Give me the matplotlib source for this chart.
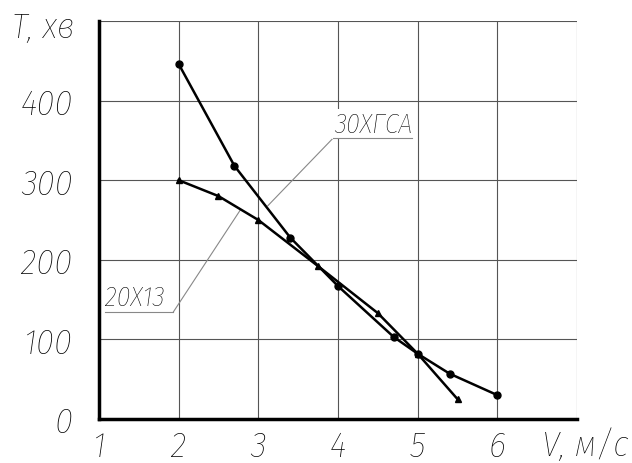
import matplotlib
matplotlib.use('Agg')
import matplotlib.pyplot as plt

# 30ХГСА (circles)
v_30 = [2.0, 2.7, 3.4, 4.0, 4.7, 5.0, 5.4, 6.0]
t_30 = [446, 318, 228, 167, 103, 82, 57, 30]

# 20Х13 (triangles)
v_20 = [2.0, 2.5, 3.0, 3.75, 4.5, 5.0, 5.5]
t_20 = [300, 280, 250, 192, 133, 82, 25]

x_ticks = [1, 2, 3, 4, 5, 6]
y_ticks = [0, 100, 200, 300, 400]

# label: text, text x/y, underline x-range and y, leader start x, leader end x/y
lbl_20 = ('20Х13', 1.08, 143, (1.07, 1.93), 134, 1.93, 2.77, 262)
lbl_30 = ('30ХГСА', 3.95, 361, (3.94, 4.93), 353, 3.94, 3.12, 268)

FONT = dict(family=['Fira Sans Condensed', 'Roboto Condensed', 'DejaVu Sans'],
            style='italic', weight='light')

fig = plt.figure(figsize=(6.32, 4.64), dpi=100)
ax = fig.add_axes([99 / 632, 44 / 464, 478 / 632, 398 / 464])
ax.set_xlim(1, 7)
ax.set_ylim(0, 500)

# grid
for xv in range(1, 8):
    ax.axvline(xv, color='#555555', lw=0.8, zorder=1)
for yv in range(0, 501, 100):
    ax.axhline(yv, color='#555555', lw=0.8, zorder=1)

for s in ['top', 'right']:
    ax.spines[s].set_visible(False)
for s in ['left', 'bottom']:
    ax.spines[s].set_linewidth(2.5)
    ax.spines[s].set_color('black')
    ax.spines[s].set_zorder(4)

ax.plot(v_30, t_30, color='black', lw=1.8, marker='o', ms=5, zorder=3)
ax.plot(v_20, t_20, color='black', lw=1.8, marker='^', ms=5, zorder=3)

ax.set_xticks(x_ticks)
ax.set_yticks(y_ticks)
ax.tick_params(length=0, pad=7)
ax.tick_params(axis='y', pad=19)
for lab in ax.get_xticklabels() + ax.get_yticklabels():
    lab.set_fontfamily(FONT['family'])
    lab.set_fontstyle('italic')
    lab.set_fontweight('light')
    lab.set_fontsize(26)

# labels with leader lines
for name, tx, ty, (u0, u1), uy, sx, lx, ly in [lbl_20, lbl_30]:
    ax.text(tx, ty, name, fontsize=20, ha='left', va='baseline', zorder=5,
            bbox=dict(facecolor='white', edgecolor='none', pad=1.5), **FONT)
    ax.plot([u0, u1], [uy, uy], color='#888888', lw=0.8, zorder=5)
    ax.plot([sx, lx], [uy, ly], color='#888888', lw=0.8, zorder=2)

fig.text(12 / 632, 1 - 38 / 464, 'T, хв', fontsize=26, ha='left', va='baseline', **FONT)
fig.text(542 / 632, 1 - 456 / 464, 'V, м/с', fontsize=26, ha='left', va='baseline', **FONT)

fig.savefig('out.png', dpi=100, facecolor='white')
